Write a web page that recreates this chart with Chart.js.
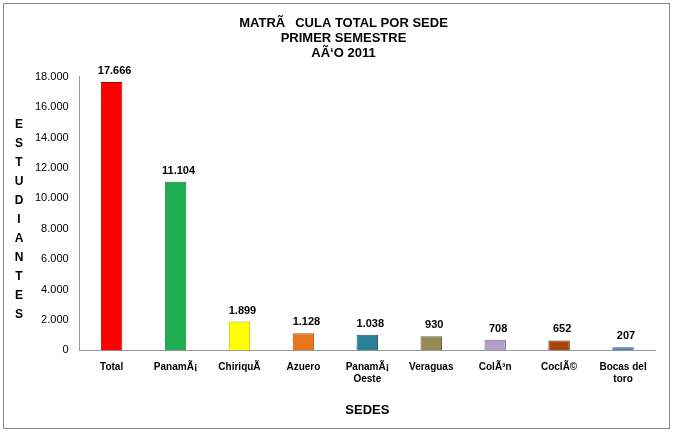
<!DOCTYPE html>
<html>
<head>
<script src="https://cdn.jsdelivr.net/npm/chart.js@4"></script>
<style>
body{margin:0;background:#fff}
#wrap{position:absolute;left:3px;top:3px;width:667px;height:426px;border:1px solid #888;box-sizing:border-box}
</style>
</head>
<body>
<div id="wrap"><canvas id="myChart" width="665" height="424"></canvas></div>
<script>
var sedes = ['Total', 'Panamá', 'Chiriquí', 'Azuero', ['Panamá', 'Oeste'], 'Veraguas', 'Colón', 'Coclé', ['Bocas del', 'toro']];
var matricula = [17666, 11104, 1899, 1128, 1038, 930, 708, 652, 207];
var colores = ['#ff0000', '#1fae4f', '#ffff00', '#e8741c', '#2b8198', '#958b55', '#b0a0c8', '#a5480f', '#4a7ec0'];
var bordes = ['#b00000', '#137a36', '#b0b000', '#a04e10', '#1c5968', '#665f38', '#7b6e8e', '#6e2f08', '#2f5684'];

function fmt(v) { return v.toString().replace(/\B(?=(\d{3})+(?!\d))/g, '.'); }

var extras = {
  id: 'extras',
  afterDatasetsDraw: function(chart) {
    var ctx = chart.ctx;
    ctx.save();
    ctx.fillStyle = '#000';
    ctx.font = 'bold 11px "Liberation Sans", Arial';
    ctx.textAlign = 'center';
    chart.getDatasetMeta(0).data.forEach(function(bar, i) {
      ctx.fillText(fmt(matricula[i]), bar.x + 3, bar.y - 8);
    });
    ctx.font = 'bold 12px "Liberation Sans", Arial';
    var letras = 'ESTUDIANTES'.split('');
    letras.forEach(function(l, i) {
      ctx.fillText(l, 15, 124 + i * 19);
    });
    ctx.restore();
  }
};

var ctx = document.getElementById('myChart').getContext('2d');
new Chart(ctx, {
  type: 'bar',
  data: {
    labels: sedes,
    datasets: [{
      data: matricula,
      backgroundColor: colores,
      borderColor: bordes,
      borderWidth: 1,
      barPercentage: 0.42
    }]
  },
  options: {
    responsive: false,
    animation: false,
    layout: { padding: { left: 28, right: 14, top: 4, bottom: 6 } },
    plugins: {
      legend: { display: false },
      tooltip: { enabled: false },
      title: {
        display: true,
        text: ['MATRÍCULA TOTAL POR SEDE', 'PRIMER SEMESTRE', 'AÑO 2011'],
        color: '#000',
        font: { family: '"Liberation Sans", Arial', size: 13, weight: 'bold', lineHeight: 1.15 },
        padding: { top: 8, bottom: 16 }
      }
    },
    scales: {
      x: {
        grid: { display: false },
        border: { color: '#999' },
        ticks: { color: '#000', font: { family: '"Liberation Sans", Arial', size: 10, weight: 'bold' }, maxRotation: 0, autoSkip: false },
        title: { display: true, text: 'SEDES', color: '#000', font: { family: '"Liberation Sans", Arial', size: 13, weight: 'bold' }, padding: { top: 14 } }
      },
      y: {
        min: 0, max: 18000,
        grid: { display: false },
        border: { color: '#999' },
        ticks: { stepSize: 2000, color: '#000', font: { family: '"Liberation Sans", Arial', size: 11 }, callback: function(v) { return fmt(v); } }
      }
    }
  },
  plugins: [extras]
});
</script>
</body>
</html>
